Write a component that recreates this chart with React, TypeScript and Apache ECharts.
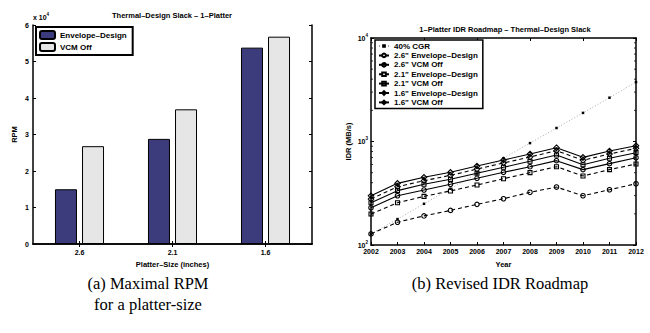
import React, { useEffect, useRef } from "react";
import * as echarts from "echarts";

// ---- Left chart: maximal RPM per platter size ----
const platterSizes = ["2.6", "2.1", "1.6"];
const envelopeRPM = [15000, 28800, 53800];
const vcmOffRPM = [26800, 36900, 56800];
const rpmTickStep = 10000;
const rpmMax = 60000;

// ---- Right chart: IDR roadmap (MB/s) ----
const years = ["2002", "2003", "2004", "2005", "2006", "2007", "2008", "2009", "2010", "2011", "2012"];
const cgr40 = [128, 178, 250, 350, 490, 690, 965, 1350, 1890, 2650, 3750];
const env26 = [128, 166, 191, 216, 247, 280, 323, 363, 299, 342, 391];
const vcm26 = [229, 299, 340, 386, 441, 504, 571, 653, 535, 611, 697];
const env21 = [199, 256, 295, 333, 380, 437, 500, 571, 464, 535, 606];
const vcm21 = [256, 335, 386, 431, 493, 563, 644, 741, 597, 688, 780];
const env16 = [278, 366, 418, 471, 542, 620, 708, 815, 658, 757, 859];
const vcm16 = [299, 394, 451, 504, 579, 662, 757, 871, 703, 809, 910];
const idrMinorTicks = [200, 300, 400, 500, 600, 700, 800, 900, 2000, 3000, 4000, 5000, 6000, 7000, 8000, 9000];

const FONT = "Liberation Sans";
const SERIF = "Liberation Serif";

function lineSeries(name: string, data: number[], dashed: boolean, symbol: string, size: number) {
  return {
    name,
    type: "line",
    xAxisIndex: 2,
    yAxisIndex: 2,
    data,
    symbol,
    symbolSize: size,
    lineStyle: { color: "#000", width: 1.1, type: dashed ? [4, 3] : "solid" },
    itemStyle: { color: "rgba(255,255,255,0)", borderColor: "#000", borderWidth: 1.1 },
    z: 3,
  };
}

export default function App() {
  const ref = useRef<HTMLDivElement>(null);
  useEffect(() => {
    document.body.style.margin = "0";
    const chart = echarts.init(ref.current!, null, { renderer: "svg" });
    const tickLabel = { fontFamily: FONT, fontWeight: "bold", fontSize: 7, color: "#000" };
    const axisLine = { show: true, lineStyle: { color: "#000", width: 1.5 } };
    const tickIn = { show: true, inside: true, length: 3, lineStyle: { color: "#000", width: 1 } };
    const logLabel = (v: number) => `{b|10}{s|${Math.round(Math.log10(v))}}`;
    const logRich = {
      b: { fontFamily: FONT, fontWeight: "bold", fontSize: 7, color: "#000" },
      s: { fontFamily: FONT, fontWeight: "bold", fontSize: 4.5, color: "#000", padding: [0, 0, 6, 0] },
    };

    chart.setOption({
      animation: false,
      backgroundColor: "#fff",
      grid: [
        { left: 33, right: 338, top: 25, bottom: 89 },
        { left: 371, right: 14, top: 38, bottom: 88 },
      ],
      xAxis: [
        {
          type: "category", gridIndex: 0, data: platterSizes, position: "bottom",
          axisLine, axisTick: { ...tickIn, alignWithLabel: true }, axisLabel: { ...tickLabel, margin: 5 },
          name: "Platter–Size (inches)", nameLocation: "middle", nameGap: 15,
          nameTextStyle: { fontFamily: FONT, fontWeight: "bold", fontSize: 7.5, color: "#000" },
        },
        {
          type: "category", gridIndex: 0, data: platterSizes, position: "top",
          axisLine, axisTick: { ...tickIn, alignWithLabel: true }, axisLabel: { show: false },
        },
        {
          type: "category", gridIndex: 1, data: years, boundaryGap: false, position: "bottom",
          axisLine, axisTick: tickIn, axisLabel: { ...tickLabel, margin: 3, interval: 0 },
          name: "Year", nameLocation: "middle", nameGap: 15,
          nameTextStyle: { fontFamily: FONT, fontWeight: "bold", fontSize: 7.5, color: "#000" },
        },
        {
          type: "category", gridIndex: 1, data: years, boundaryGap: false, position: "top",
          axisLine, axisTick: tickIn, axisLabel: { show: false },
        },
      ],
      yAxis: [
        {
          type: "value", gridIndex: 0, min: 0, max: rpmMax, interval: rpmTickStep, position: "left",
          axisLine, axisTick: tickIn, splitLine: { show: false },
          axisLabel: { ...tickLabel, margin: 4, formatter: (v: number) => String(v / 10000) },
          name: "RPM", nameLocation: "middle", nameGap: 15, nameRotate: 90,
          nameTextStyle: { fontFamily: FONT, fontWeight: "bold", fontSize: 7.5, color: "#000" },
        },
        {
          type: "value", gridIndex: 0, min: 0, max: rpmMax, interval: rpmTickStep, position: "right",
          axisLine, axisTick: tickIn, splitLine: { show: false }, axisLabel: { show: false },
        },
        {
          type: "log", gridIndex: 1, min: 100, max: 10000, logBase: 10, position: "left",
          axisLine, axisTick: tickIn, splitLine: { show: false },
          axisLabel: { formatter: logLabel, rich: logRich, margin: 3 },
          name: "IDR (MB/s)", nameLocation: "middle", nameGap: 19, nameRotate: 90,
          nameTextStyle: { fontFamily: FONT, fontWeight: "bold", fontSize: 7.5, color: "#000" },
        },
        {
          type: "log", gridIndex: 1, min: 100, max: 10000, logBase: 10, position: "right",
          axisLine, axisTick: tickIn, splitLine: { show: false }, axisLabel: { show: false },
        },
      ],
      legend: [
        {
          data: ["Envelope–Design", "VCM Off"],
          orient: "vertical", left: 36, top: 27,
          backgroundColor: "#fff", borderColor: "#000", borderWidth: 2,
          padding: [3, 6, 3, 3], itemGap: 2, itemWidth: 15, itemHeight: 8,
          textStyle: { fontFamily: FONT, fontWeight: "bold", fontSize: 8, color: "#000" },
          z: 10,
        },
        {
          data: ["40% CGR", "2.6\" Envelope–Design", "2.6\" VCM Off", "2.1\" Envelope–Design", "2.1\" VCM Off", "1.6\" Envelope–Design", "1.6\" VCM Off"],
          orient: "vertical", left: 375, top: 40,
          backgroundColor: "#fff", borderColor: "#000", borderWidth: 1.5,
          padding: [2, 5, 2, 3], itemGap: 1.4, itemWidth: 10, itemHeight: 4.5,
          textStyle: { fontFamily: FONT, fontWeight: "bold", fontSize: 8, color: "#000", lineHeight: 8 },
          z: 10,
        },
      ],
      series: [
        {
          name: "Envelope–Design", type: "bar", xAxisIndex: 0, yAxisIndex: 0, data: envelopeRPM,
          barWidth: 22, barGap: "23%",
          itemStyle: { color: "#3c3c7c", borderColor: "#000", borderWidth: 1 },
        },
        {
          name: "VCM Off", type: "bar", xAxisIndex: 0, yAxisIndex: 0, data: vcmOffRPM,
          barWidth: 22, barGap: "23%",
          itemStyle: { color: "#e6e6e6", borderColor: "#000", borderWidth: 1 },
        },
        {
          name: "40% CGR", type: "line", xAxisIndex: 2, yAxisIndex: 2, data: cgr40,
          symbol: "rect", symbolSize: 2.5,
          lineStyle: { color: "#a0a0a0", width: 0.9, type: [1, 2] },
          itemStyle: { color: "#000" }, z: 2,
        },
        lineSeries("2.6\" Envelope–Design", env26, true, "circle", 4.5),
        lineSeries("2.6\" VCM Off", vcm26, false, "circle", 4.5),
        lineSeries("2.1\" Envelope–Design", env21, true, "rect", 4),
        lineSeries("2.1\" VCM Off", vcm21, false, "rect", 4),
        lineSeries("1.6\" Envelope–Design", env16, true, "diamond", 5.5),
        lineSeries("1.6\" VCM Off", vcm16, false, "diamond", 5.5),
        {
          name: "minor ticks", type: "custom", xAxisIndex: 2, yAxisIndex: 2,
          data: idrMinorTicks.map((v) => [0, v]),
          encode: { x: 0, y: 1 }, silent: true, z: 1,
          renderItem: (params: any, api: any) => {
            const y = api.coord([0, api.value(1)])[1];
            const cs = params.coordSys;
            return {
              type: "group",
              children: [
                { type: "line", shape: { x1: cs.x, y1: y, x2: cs.x + 2, y2: y }, style: { stroke: "#000", lineWidth: 0.8 } },
                { type: "line", shape: { x1: cs.x + cs.width - 2, y1: y, x2: cs.x + cs.width, y2: y }, style: { stroke: "#000", lineWidth: 0.8 } },
              ],
            };
          },
        },
      ],
      graphic: [
        {
          type: "text", x: 172, y: 15, z: 20,
          style: { text: "Thermal–Design Slack – 1–Platter", align: "center", verticalAlign: "middle", fontFamily: FONT, fontWeight: "bold", fontSize: 7.5, fill: "#000" },
        },
        {
          type: "text", x: 505, y: 29, z: 20,
          style: { text: "1–Platter IDR Roadmap – Thermal–Design Slack", align: "center", verticalAlign: "middle", fontFamily: FONT, fontWeight: "bold", fontSize: 7.5, fill: "#000" },
        },
        {
          type: "text", x: 33, y: 17, z: 20,
          style: {
            text: "{a|x 10}{s|4}", align: "left", verticalAlign: "middle",
            rich: {
              a: { fontFamily: FONT, fontWeight: "bold", fontSize: 7, fill: "#000" },
              s: { fontFamily: FONT, fontWeight: "bold", fontSize: 4.5, fill: "#000", padding: [0, 0, 6, 0] },
            },
          },
        },
        {
          type: "text", x: 148, y: 283, z: 20,
          style: { text: "(a) Maximal RPM", align: "center", verticalAlign: "middle", fontFamily: SERIF, fontSize: 16.5, fill: "#000" },
        },
        {
          type: "text", x: 148, y: 304, z: 20,
          style: { text: "for a platter-size", align: "center", verticalAlign: "middle", fontFamily: SERIF, fontSize: 16.5, fill: "#000" },
        },
        {
          type: "text", x: 500, y: 283, z: 20,
          style: { text: "(b) Revised IDR Roadmap", align: "center", verticalAlign: "middle", fontFamily: SERIF, fontSize: 16.5, fill: "#000" },
        },
      ],
    });
    return () => chart.dispose();
  }, []);
  return <div ref={ref} style={{ width: 650, height: 333 }} />;
}
